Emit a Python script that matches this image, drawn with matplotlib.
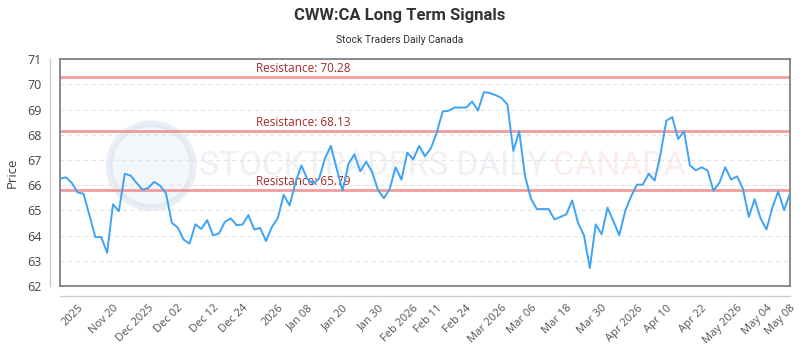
import numpy as np
import matplotlib.pyplot as plt
from matplotlib.lines import Line2D
from matplotlib.patches import Ellipse

# closing prices, one per trading day
prices = [66.25, 66.31, 66.09, 65.71, 65.66, 64.81, 63.94, 63.94, 63.31, 65.24,
          64.97, 66.45, 66.38, 66.09, 65.82, 65.89, 66.13, 65.98, 65.68, 64.50,
          64.32, 63.84, 63.68, 64.45, 64.26, 64.61, 64.01, 64.08, 64.54, 64.68,
          64.41, 64.44, 64.81, 64.24, 64.30, 63.78, 64.34, 64.70, 65.62, 65.19,
          66.10, 66.78, 66.25, 66.06, 66.25, 67.06, 67.56, 66.65, 65.78, 66.85,
          67.22, 66.55, 66.93, 66.53, 65.82, 65.48, 65.84, 66.71, 66.22, 67.29,
          67.02, 67.56, 67.15, 67.46, 68.09, 68.92, 68.95, 69.08, 69.08, 69.08,
          69.32, 68.96, 69.69, 69.66, 69.57, 69.46, 69.20, 67.36, 68.14, 66.35,
          65.46, 65.05, 65.05, 65.05, 64.64, 64.74, 64.84, 65.39, 64.50, 64.01,
          62.71, 64.44, 64.05, 65.11, 64.57, 64.01, 64.97, 65.55, 66.02, 66.02,
          66.45, 66.18, 67.22, 68.56, 68.70, 67.83, 68.14, 66.78, 66.59, 66.71,
          66.58, 65.78, 66.09, 66.71, 66.22, 66.35, 65.86, 64.74, 65.44, 64.68,
          64.24, 65.11, 65.75, 65.01, 65.68]

resistance = [70.28, 68.13, 65.79]

tick_idx = [3, 9, 15, 20, 26, 31, 37, 42, 48, 54, 60, 64, 69, 75, 80, 86,
            92, 98, 103, 109, 115, 120, 124]
tick_labels = ["2025", "Nov 20", "Dec 2025", "Dec 02", "Dec 12", "Dec 24",
               "2026", "Jan 08", "Jan 20", "Jan 30", "Feb 2026", "Feb 11",
               "Feb 24", "Mar 2026", "Mar 06", "Mar 18", "Mar 30", "Apr 2026",
               "Apr 10", "Apr 22", "May 2026", "May 04", "May 08"]

plt.rcParams['font.family'] = ['Open Sans', 'DejaVu Sans']

fig = plt.figure(figsize=(8, 3.5), dpi=100)
ax = fig.add_axes([0.075, 0.183, 0.9125, 0.648])

x = np.arange(len(prices))
ax.set_xlim(0, len(prices) - 1)
ax.set_ylim(62, 71)

# watermark (logo circle + text)
ax.add_patch(Ellipse((0.125, 0.53), 84 / 730, 84 / 227, transform=ax.transAxes,
                     facecolor='#e3eaf4', edgecolor='#ccd8e8', lw=5,
                     alpha=0.4, zorder=0))
ax.text(0.19, 0.53, "STOCKTRADERS DAILY", transform=ax.transAxes,
        fontsize=24, color='#b8c6d8', alpha=0.25, va='center', ha='left',
        family='Roboto', zorder=0)
ax.text(0.675, 0.53, "CANADA", transform=ax.transAxes,
        fontsize=24, color='#f08080', alpha=0.15, va='center', ha='left',
        family='Roboto', zorder=0)

ax.yaxis.grid(True, color='#e4e4e4', ls=(0, (4, 3)), lw=0.8)
ax.set_axisbelow(True)

for r in resistance:
    ax.axhline(r, color='#f08a8a', lw=2, alpha=0.85, zorder=2)
    ax.text(33.3, r + 0.08, f"Resistance: {r:.2f}", color='#a52a2a',
            fontsize=8.5, va='bottom', ha='left', zorder=3)

ax.plot(x, prices, color='#3fa3f5', lw=1.4, zorder=4)

for s in ax.spines.values():
    s.set_color('#777777')
    s.set_linewidth(1.2)

# detached axis lines
ax.add_line(Line2D([-0.014, -0.014], [0, 1], transform=ax.transAxes,
                   color='#cccccc', lw=1, clip_on=False))
ax.add_line(Line2D([0, 1], [-0.044, -0.044], transform=ax.transAxes,
                   color='#cccccc', lw=1, clip_on=False))

ax.set_yticks(range(62, 72))
ax.tick_params(axis='y', length=0, labelsize=9, labelcolor='#444444', pad=13)
ax.set_xticks(tick_idx)
ax.set_xticklabels(tick_labels, rotation=45, ha='right',
                   rotation_mode='anchor')
ax.tick_params(axis='x', length=0, labelsize=8, labelcolor='#555555', pad=12)

ax.set_ylabel("Price", fontsize=9.5, color='#444444', labelpad=6)

fig.text(0.5, 0.955, "CWW:CA Long Term Signals", ha='center', va='center',
         fontsize=12, fontweight='bold', color='#333333', family='Roboto')
fig.text(0.5, 0.885, "Stock Traders Daily Canada", ha='center', va='center',
         fontsize=7.5, color='#333333', family='Roboto')

fig.savefig("out.png", dpi=100, facecolor='white')
